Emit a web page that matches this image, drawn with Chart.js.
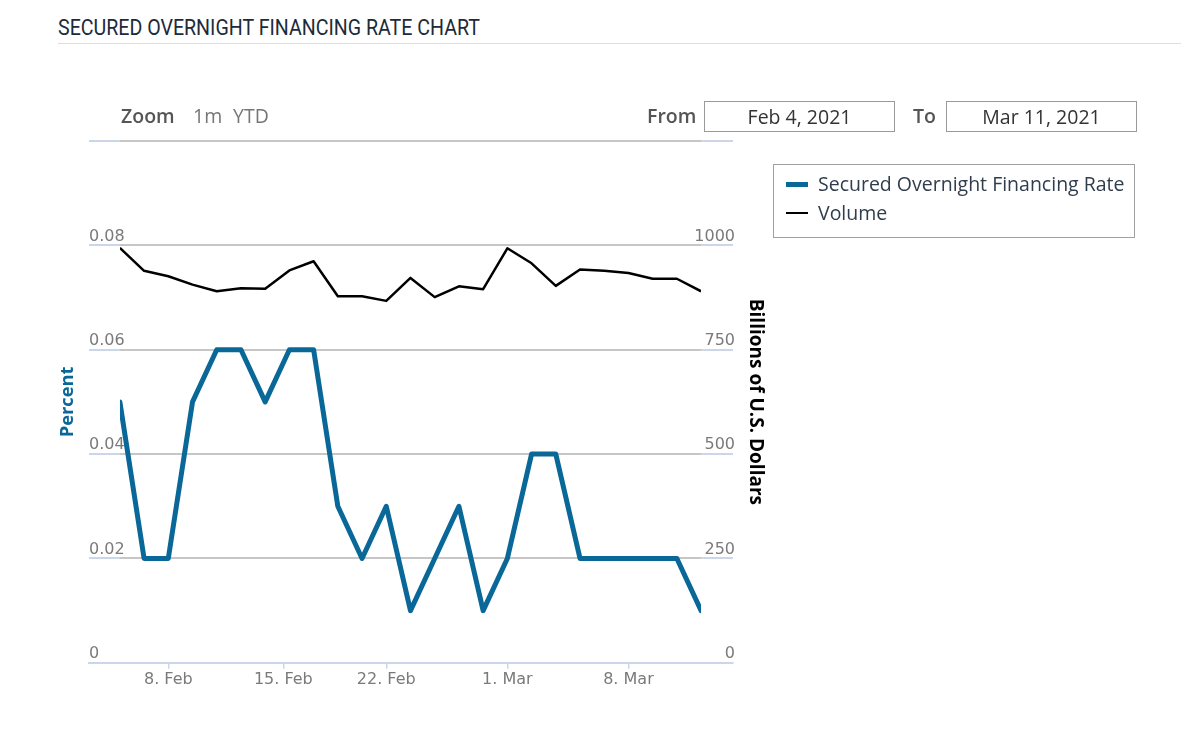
<!DOCTYPE html>
<html><head><meta charset="utf-8">
<script src="https://cdn.jsdelivr.net/npm/chart.js@4.4.1/dist/chart.umd.min.js"></script>
<style>
html,body{margin:0;padding:0;background:#fff;width:1181px;height:730px;overflow:hidden;font-family:'Open Sans',sans-serif;}
#wrap{position:relative;width:1181px;height:730px;}
#c{position:absolute;left:0;top:0;}
#title{position:absolute;left:58px;top:14px;font-family:'Roboto',sans-serif;font-size:22.5px;line-height:26px;color:#1c2a39;white-space:nowrap;transform-origin:0 0;}
#rule{position:absolute;left:58px;right:0;top:43px;height:1px;background:#dedede;}
.rs{position:absolute;font-size:19.5px;line-height:22px;white-space:nowrap;}
.lbl{color:#555;font-weight:600;}
.btn{color:#777;}
.box{position:absolute;top:101px;width:189px;height:29px;border:1px solid #9a9a9a;text-align:center;font-size:19.5px;line-height:29px;color:#333;}
#legend{position:absolute;left:773px;top:164px;width:360px;height:72px;border:1.5px solid #a0a0a0;}
.li{position:absolute;left:12px;height:26px;font-size:19.5px;line-height:26px;color:#2f3d4d;white-space:nowrap;}
.sw{position:absolute;left:0;width:22px;top:50%;}
.lt{position:absolute;left:32px;top:0;}
</style></head>
<body><div id="wrap">
<div id="title">SECURED OVERNIGHT FINANCING RATE CHART</div>
<div id="rule"></div>
<canvas id="c" width="1181" height="730"></canvas>
<div class="rs lbl" style="left:121px;top:105px;">Zoom</div>
<div class="rs btn" style="left:193px;top:105px;">1m</div>
<div class="rs btn" style="left:233px;top:105px;">YTD</div>
<div class="rs lbl" style="left:647px;top:105px;">From</div>
<div class="box" style="left:704px;" id="fromBox"></div>
<div class="rs lbl" style="left:913px;top:105px;">To</div>
<div class="box" style="left:946px;" id="toBox"></div>
<div id="legend"></div>
</div>
<script>
// ---- data ----
const dates = ['2021-02-04','2021-02-05','2021-02-08','2021-02-09','2021-02-10','2021-02-11','2021-02-12',
  '2021-02-16','2021-02-17','2021-02-18','2021-02-19','2021-02-22','2021-02-23','2021-02-24','2021-02-25','2021-02-26',
  '2021-03-01','2021-03-02','2021-03-03','2021-03-04','2021-03-05','2021-03-08','2021-03-09','2021-03-10','2021-03-11'];
const sofrRate = [0.05,0.02,0.02,0.05,0.06,0.06,0.05,0.06,0.06,0.03,0.02,0.03,0.01,0.02,0.03,0.01,0.02,0.04,0.04,0.02,0.02,0.02,0.02,0.02,0.01];
const volume = [994,939,926,906,890,897,896,940,962,878,878,867,922,876,902,895,993,957,903,942,939,934,920,920,890];
const xTickDates = ['2021-02-08','2021-02-15','2021-02-22','2021-03-01','2021-03-08'];
const xTickLabels = ['8. Feb','15. Feb','22. Feb','1. Mar','8. Mar'];
const leftTicks = [0,0.02,0.04,0.06,0.08,0.1];
const leftTickLabels = ['0','0.02','0.04','0.06','0.08'];
const rightTicks = [0,250,500,750,1000,1250];
const rightTickLabels = ['0','250','500','750','1000'];
const fromLabel = 'Feb 4, 2021', toLabel = 'Mar 11, 2021';
const seriesNames = ['Secured Overnight Financing Rate','Volume'];
const leftTitle = 'Percent', rightTitle = 'Billions of U.S. Dollars';

// ordinal (business-day) position of any date
function ordinalPos(d){
  const t = Date.parse(d);
  const ts = dates.map(Date.parse);
  for(let i=0;i<ts.length;i++){
    if(ts[i]===t) return i;
    if(ts[i]>t){ return i-1 + (t-ts[i-1])/(ts[i]-ts[i-1]); }
  }
  return ts.length-1;
}
const xTickPos = xTickDates.map(ordinalPos);

const BLUE = '#0a6898';
const GRAY_GRID = '#c6c6c6', AXIS_BLUE = '#ccd6eb';

function gridColor(ctx){
  const chart = ctx.chart, a = chart.chartArea, xs = chart.scales.x;
  if(!a || !xs) return GRAY_GRID;
  const w = a.right - a.left;
  const s0 = Math.max(0,(xs.getPixelForValue(0)-a.left)/w);
  const s1 = Math.min(1,(xs.getPixelForValue(dates.length-1)-a.left)/w);
  const g = chart.ctx.createLinearGradient(a.left,0,a.right,0);
  g.addColorStop(0,AXIS_BLUE); g.addColorStop(s0,AXIS_BLUE);
  g.addColorStop(s0,GRAY_GRID); g.addColorStop(s1,GRAY_GRID);
  g.addColorStop(s1,AXIS_BLUE); g.addColorStop(1,AXIS_BLUE);
  return g;
}

document.getElementById('fromBox').textContent = fromLabel;
document.getElementById('toBox').textContent = toLabel;

Chart.defaults.font.family = "'DejaVu Sans', sans-serif";
Chart.defaults.color = '#666';

const tickFont = {family:"'DejaVu Sans', sans-serif", size:16, weight:'normal'};
const TICK_COLOR = '#7a7a7a';

const chart = new Chart(document.getElementById('c'), {
  type:'line',
  data:{
    datasets:[
      {label:seriesNames[0], data:sofrRate.map((v,i)=>({x:i,y:v})), yAxisID:'y', borderColor:BLUE, backgroundColor:BLUE,
       borderWidth:5, pointRadius:0, tension:0, borderJoinStyle:'round', borderCapStyle:'round', clip:{left:-31,right:-32,top:10,bottom:10}},
      {label:seriesNames[1], data:volume.map((v,i)=>({x:i,y:v})), yAxisID:'y1', borderColor:'#000', backgroundColor:'#000',
       borderWidth:2.5, pointRadius:0, tension:0, borderJoinStyle:'round', clip:{left:-31,right:-32,top:10,bottom:10}}
    ]
  },
  options:{
    responsive:false, animation:false, devicePixelRatio:1,
    layout:{padding:{left:47,right:408,top:141,bottom:40}},
    plugins:{legend:{display:false}, tooltip:{enabled:false}},
    scales:{
      x:{type:'linear', min:-31/583*24, max:24+32/583*24,
        afterBuildTicks:(s)=>{ s.ticks = xTickPos.map(v=>({value:v})); },
        ticks:{autoSkip:false, maxRotation:0, padding:1, font:tickFont, color:TICK_COLOR,
          callback:(v,i)=>xTickLabels[i]},
        grid:{display:true, drawOnChartArea:false, drawTicks:true, tickLength:6, color:AXIS_BLUE, lineWidth:1.5},
        border:{display:true, color:AXIS_BLUE, width:2}
      },
      y:{type:'linear', position:'left', min:0, max:0.1,
        afterBuildTicks:(s)=>{ s.ticks = leftTicks.map(v=>({value:v})); },
        ticks:{mirror:true, padding:0, labelOffset:-9, font:tickFont, color:TICK_COLOR,
          callback:(v,i)=>leftTickLabels[i] ?? ''},
        grid:{color:gridColor, lineWidth:2, drawTicks:false},
        border:{display:false},
        title:{display:true, text:leftTitle, color:BLUE, font:{family:"'Open Sans', sans-serif", size:18.3, weight:'bold'}, padding:10}
      },
      y1:{type:'linear', position:'right', min:0, max:1250,
        afterBuildTicks:(s)=>{ s.ticks = rightTicks.map(v=>({value:v})); },
        ticks:{mirror:true, padding:2, labelOffset:-9, font:tickFont, color:TICK_COLOR,
          callback:(v,i)=>rightTickLabels[i] ?? ''},
        grid:{drawOnChartArea:false, drawTicks:false},
        border:{display:false},
        title:{display:true, text:rightTitle, color:'#000', font:{family:"'Open Sans', sans-serif", size:19, weight:'bold'}, padding:6.6}
      }
    }
  }
});

// HTML legend built from datasets
const leg = document.getElementById('legend');
chart.data.datasets.forEach((ds,i)=>{
  const item = document.createElement('div');
  item.className='li'; item.style.top = (6 + i*29) + 'px'; item.style.width='345px';
  const sw = document.createElement('div'); sw.className='sw';
  sw.style.height = ds.borderWidth+'px'; sw.style.marginTop = (-ds.borderWidth/2)+'px'; sw.style.background = ds.borderColor;
  const t = document.createElement('div'); t.className='lt'; t.textContent = ds.label;
  item.appendChild(sw); item.appendChild(t); leg.appendChild(item);
});

// fit title width
const tEl = document.getElementById('title');
const tw = tEl.getBoundingClientRect().width;
tEl.style.transform = 'scaleX(' + (422/tw) + ')';
</script>
</body></html>
